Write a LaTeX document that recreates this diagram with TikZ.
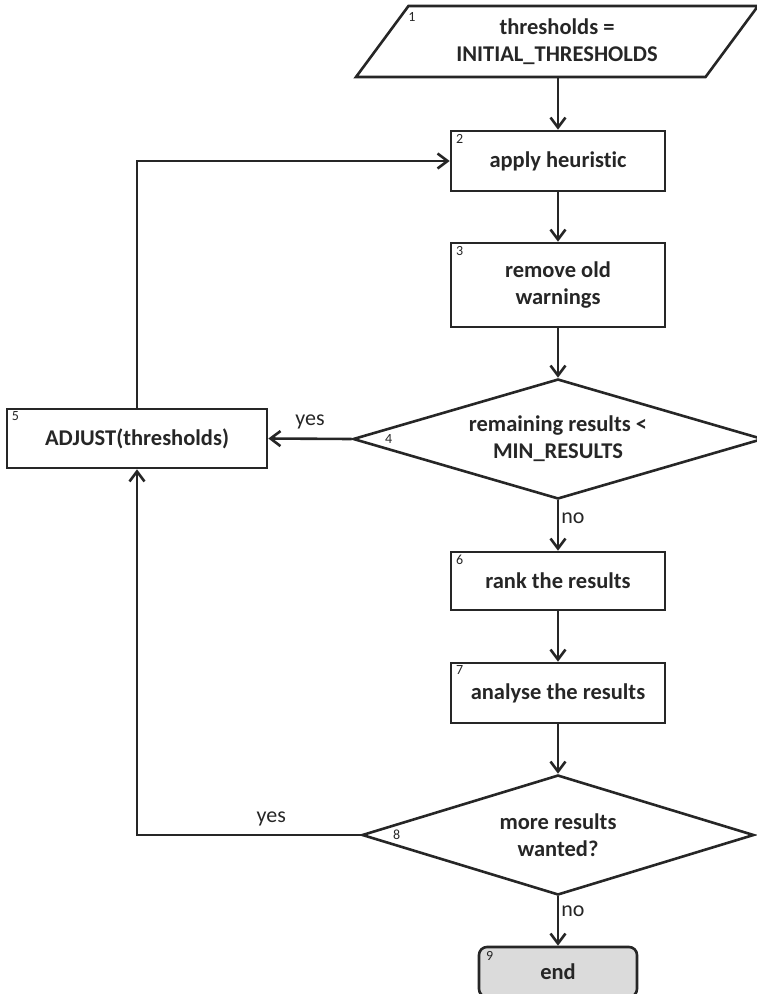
\documentclass[tikz,border=0pt]{standalone}
\usepackage{fontspec}
\setmainfont{Carlito}[Ligatures=NoCommon]
\usetikzlibrary{shapes.geometric,arrows.meta}

\begin{document}
\begin{tikzpicture}[x=1pt,y=-1pt,line width=2.6pt,
  every node/.style={text=black!85},
  box/.style={draw=black!85,rectangle,minimum width=214pt,minimum height=60pt,inner sep=0pt,
    align=center,font=\fontsize{22.5}{27}\selectfont\bfseries},
  io/.style={box,trapezium,trapezium left angle=41.2,trapezium right angle=138.8,
    trapezium stretches body,minimum width=402pt,minimum height=71pt},
  test/.style={box,diamond,aspect=3.4,minimum height=120pt},
  term/.style={box,rounded corners=8pt,fill=black!14,minimum width=158pt,minimum height=50pt},
  num/.style={inner sep=0pt,font=\fontsize{14}{14}\selectfont},
  lab/.style={inner sep=2pt,font=\fontsize{22}{22}\selectfont},
  arr/.style={draw=black!85,-{Straight Barb[length=10pt,width=15pt]}}]
  \useasboundingbox (0,0) rectangle (757,994);
  \clip (0,0) rectangle (757,994);

  % the steps
  \node[io] (init) at (557,41.5) {thresholds =\\INITIAL\_THRESHOLDS};
  \node[box] (heur) at (558,161) {apply heuristic};
  \node[box,minimum height=84pt] (remove) at (558,285) {remove old\\warnings};
  \node[test,minimum width=410pt] (check) at (558,439) {remaining results <\\MIN\_RESULTS};
  \node[box,minimum width=260pt,minimum height=59pt] (adjust) at (137,438.5) {ADJUST(thresholds)};
  \node[box,minimum height=58pt] (rank) at (558,581) {rank the results};
  \node[box] (analyse) at (558,693) {analyse the results};
  \node[test,minimum width=392pt] (more) at (558,835) {more results\\wanted?};
  \node[term] (stop) at (558,972) {end};

  % step numbers
  \node[num] (l1) at ([shift={(4,12)}]init.top left corner) {1};
  \node[num,anchor=north west] (l2) at ([shift={(5,3)}]heur.north west) {2};
  \node[num,anchor=north west] (l3) at ([shift={(5,3)}]remove.north west) {3};
  \node[num] (l4) at ([xshift=37]check.west) {4};
  \node[num,anchor=north west] (l5) at ([shift={(5,3)}]adjust.north west) {5};
  \node[num,anchor=north west] (l6) at ([shift={(5,3)}]rank.north west) {6};
  \node[num,anchor=north west] (l7) at ([shift={(5,3)}]analyse.north west) {7};
  \node[num] (l8) at ([xshift=36]more.west) {8};
  \node[num,anchor=north west] (l9) at ([shift={(7,4)}]stop.north west) {9};

  % flow
  \draw[arr] (init.south -| heur.north) -- (heur.north);
  \draw[arr] (heur) -- (remove);
  \draw[arr] (remove) -- (check);
  \draw[arr] (check.west) -- node[lab,above=6pt] (yes1) {yes} (adjust.east);
  \draw[arr] (check.south) -- node[lab,right,pos=0.35] (no1) {no} (rank.north);
  \draw[arr] (rank) -- (analyse);
  \draw[arr] (analyse) -- (more);
  \draw[arr] (more.south) -- node[lab,right,pos=0.3] (no2) {no} (stop.north);
  \draw[arr] (adjust.north) |- (heur.west);
  \draw[arr] (more.west) -| node[lab,above=6pt,pos=0.2] (yes2) {yes} (adjust.south);
\end{tikzpicture}
\end{document}
